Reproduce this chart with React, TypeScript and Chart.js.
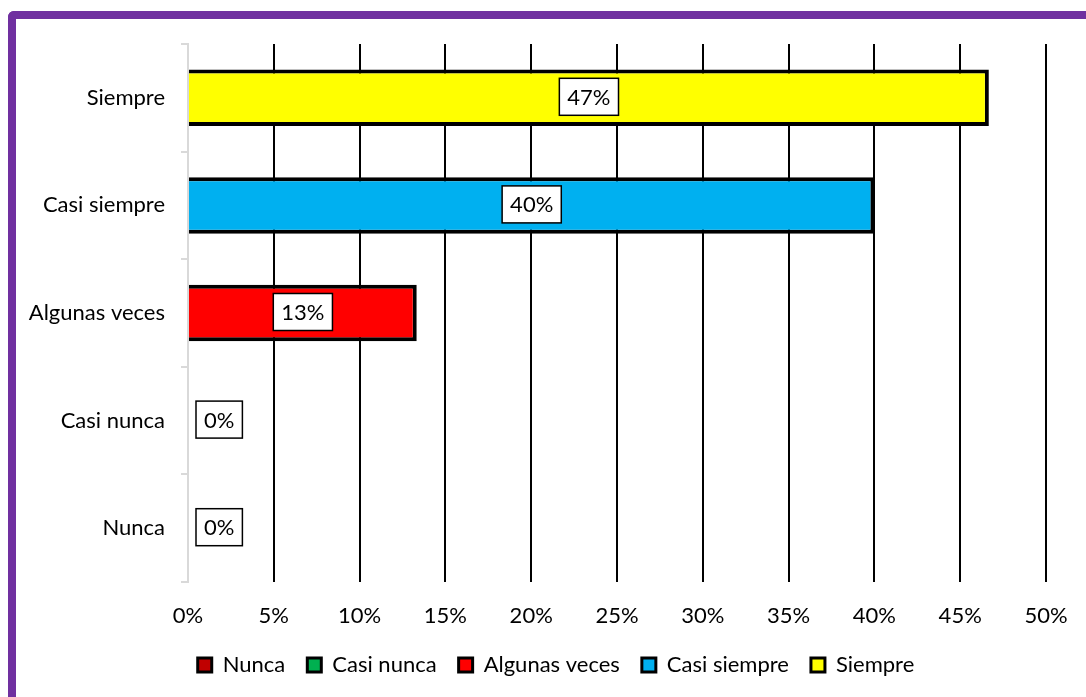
import React, { useEffect, useRef } from 'react';
import { Chart, registerables } from 'chart.js';

Chart.register(...registerables);

const categories = ['Siempre', 'Casi siempre', 'Algunas veces', 'Casi nunca', 'Nunca'];
const seriesNames = ['Nunca', 'Casi nunca', 'Algunas veces', 'Casi siempre', 'Siempre'];
const seriesColors = ['#C00000', '#00B050', '#FF0000', '#00B0F0', '#FFFF00'];
const seriesValues = [0, 0, 13.33, 40, 46.67];
const xMin = 0;
const xMax = 50;
const xStep = 5;

const FONT = 'Lato, "Open Sans", sans-serif';
const FS = 22;
const LEGEND_CENTER = 556;
const CW = 1089;
const CH = 697;

const valueBoxes = {
  id: 'valueBoxes',
  afterDatasetsDraw(chart: any) {
    const ctx = chart.ctx;
    ctx.save();
    ctx.font = `${FS}px ${FONT}`;
    ctx.textAlign = 'center';
    ctx.textBaseline = 'middle';
    chart.data.datasets.forEach((ds: any, di: number) => {
      const meta = chart.getDatasetMeta(di);
      meta.data.forEach((el: any, i: number) => {
        const v = ds.data[i];
        if (v === null || v === undefined) return;
        const p = el.getProps(['x', 'y', 'base'], true);
        const text = Math.round(v) + '%';
        const tw = ctx.measureText(text).width;
        const bw = tw + 16;
        const bh = 37;
        let cx = (p.x + p.base) / 2;
        const minCx = p.base + 8 + bw / 2;
        if (cx < minCx) cx = minCx;
        const cy = p.y - 1;
        ctx.fillStyle = '#ffffff';
        ctx.fillRect(cx - bw / 2, cy - bh / 2, bw, bh);
        ctx.strokeStyle = '#000000';
        ctx.lineWidth = 1.5;
        ctx.strokeRect(cx - bw / 2, cy - bh / 2, bw, bh);
        ctx.fillStyle = '#000000';
        ctx.fillText(text, cx, cy + 1);
      });
    });
    ctx.restore();
  },
};

const legendShift = {
  id: 'legendShift',
  afterLayout(chart: any) {
    const lg = chart.legend;
    if (!lg) return;
    const d = LEGEND_CENTER - (lg.left + lg.right) / 2;
    lg.left += d;
    lg.right += d;
  },
};

export default function App() {
  const ref = useRef<HTMLCanvasElement | null>(null);

  useEffect(() => {
    if (!ref.current) return;
    const datasets = seriesNames.map((name, si) => ({
      label: name,
      data: categories.map((c) => (c === name ? seriesValues[si] : null)),
      backgroundColor: seriesColors[si],
      borderColor: '#000000',
      borderWidth: 4,
      categoryPercentage: 1,
      barPercentage: 0.525,
    }));

    const chart = new Chart(ref.current, {
      type: 'bar',
      data: { labels: categories, datasets },
      plugins: [valueBoxes, legendShift],
      options: {
        indexAxis: 'y',
        animation: false,
        responsive: false,
        devicePixelRatio: 1,
        layout: { padding: { top: 44, left: 15, right: 43, bottom: 11 } },
        font: { family: FONT, size: FS },
        scales: {
          x: {
            stacked: true,
            min: xMin,
            max: xMax,
            ticks: {
              stepSize: xStep,
              color: '#000',
              font: { family: FONT, size: FS },
              padding: 21,
              callback: (v: any) => v + '%',
            },
            grid: {
              drawTicks: false,
              lineWidth: 2,
              color: (c: any) => (c.tick && c.tick.value === 0 ? 'rgba(0,0,0,0)' : '#000000'),
            },
            border: { display: false },
            afterFit: (s: any) => {
              s.height = 50;
            },
          },
          y: {
            stacked: true,
            ticks: {
              color: '#000',
              font: { family: FONT, size: FS },
              padding: 16,
            },
            grid: {
              offset: true,
              drawOnChartArea: false,
              drawTicks: true,
              tickLength: 7,
              lineWidth: 2,
              color: '#d9d9d9',
            },
            border: { display: true, color: '#d9d9d9', width: 2 },
            afterFit: (s: any) => {
              s.width = 173;
            },
          },
        },
        plugins: {
          legend: {
            position: 'bottom',
            labels: {
              boxWidth: 14,
              boxHeight: 14,
              padding: 22,
              color: '#000',
              font: { family: FONT, size: FS },
              generateLabels: (ch: any) =>
                ch.data.datasets.map((ds: any, i: number) => ({
                  text: ds.label,
                  fillStyle: ds.backgroundColor,
                  strokeStyle: '#000000',
                  lineWidth: 3,
                  hidden: false,
                  datasetIndex: i,
                  fontColor: '#000',
                })),
            },
          },
          tooltip: { enabled: false },
        },
      },
    });
    return () => chart.destroy();
  }, []);

  return (
    <>
      <div
        style={{
          position: 'fixed',
          left: 8,
          top: 11,
          width: 1300,
          height: 900,
          borderLeft: '8px solid #7030A0',
          borderTop: '8px solid #7030A0',
          borderTopLeftRadius: 6,
          boxSizing: 'border-box',
        }}
      />
      <div style={{ position: 'fixed', left: 0, top: 0, width: CW, height: CH }}>
        <canvas ref={ref} width={CW} height={CH} style={{ width: CW, height: CH, display: 'block' }} />
      </div>
    </>
  );
}
